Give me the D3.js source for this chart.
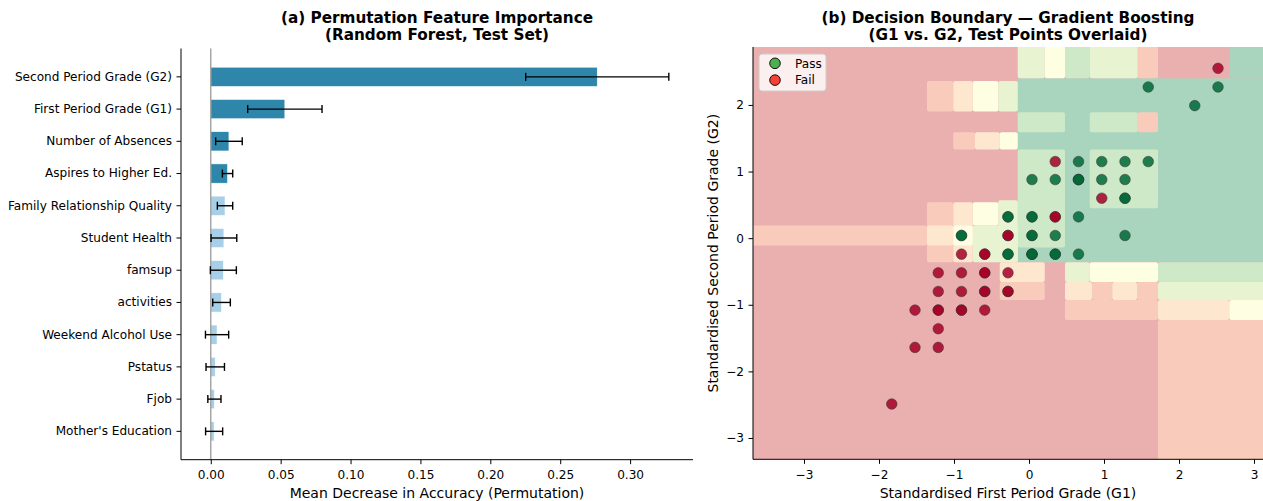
<!DOCTYPE html>
<html><head><meta charset="utf-8">
<script src="https://cdn.jsdelivr.net/npm/d3@7"></script>
<style>
html,body{margin:0;padding:0;background:#fff;}
text{font-family:"DejaVu Sans",sans-serif;fill:#000;}
</style></head>
<body>
<svg id="chart" width="1263" height="501"></svg>
<script>
// ---------- DATA: panel (a) ----------
const features = ["Second Period Grade (G2)", "First Period Grade (G1)", "Number of Absences",
  "Aspires to Higher Ed.", "Family Relationship Quality", "Student Health", "famsup", "activities",
  "Weekend Alcohol Use", "Pstatus", "Fjob", "Mother's Education"];
const importanceMean = [0.2765, 0.0530, 0.0130, 0.0120, 0.0102, 0.0094, 0.0090, 0.0077, 0.0045, 0.0032, 0.0026, 0.0024];
const importanceStd  = [0.0512, 0.0266, 0.0095, 0.0037, 0.0055, 0.0092, 0.0093, 0.0063, 0.0083, 0.0066, 0.0047, 0.0061];
const highlightCount = 4;
const importanceTicks = [0.00, 0.05, 0.10, 0.15, 0.20, 0.25, 0.30];

// ---------- DATA: panel (b) ----------
const passG1 = [1.59, 2.52, 2.21, 0.66, 0.97, 1.28, 1.59, 0.04, 0.35, 0.66, 0.66, 0.66, 0.97, 1.28, 1.28, 1.28,
  -0.28, -0.28, 0.04, 0.04, 0.66, -0.90, -0.90, 0.04, 0.04, 0.35, 1.28, -0.28, -0.28, 0.04, 0.04, 0.04, 0.35, 0.35, 0.66];
const passG2 = [2.27, 2.27, 1.99, 1.15, 1.15, 1.15, 1.15, 0.88, 0.88, 0.88, 0.88, 0.88, 0.88, 0.88, 0.60, 0.60,
  0.32, 0.32, 0.32, 0.32, 0.32, 0.04, 0.04, 0.04, 0.04, 0.04, 0.04, -0.24, -0.24, -0.24, -0.24, -0.24, -0.24, -0.24, -0.24];
const failG1 = [2.52, 0.35, 0.97, 0.35, 0.35, -0.28, -0.28, -0.90, -0.59, -0.59, -1.21, -0.90, -0.59, -0.59, -0.28,
  -1.21, -0.90, -0.59, -0.59, -0.28, -0.28, -1.52, -1.21, -1.21, -0.90, -0.90, -0.59, -1.21, -1.52, -1.21, -1.83];
const failG2 = [2.55, 1.15, 0.60, 0.32, 0.32, 0.04, 0.04, -0.24, -0.24, -0.24, -0.52, -0.52, -0.52, -0.52, -0.52,
  -0.80, -0.80, -0.80, -0.80, -0.80, -0.80, -1.08, -1.08, -1.08, -1.08, -1.08, -1.08, -1.36, -1.64, -1.64, -2.49];
const g1Ticks = [-3, -2, -1, 0, 1, 2, 3];
const g2Ticks = [-3, -2, -1, 0, 1, 2];
const legendLabels = ["Pass", "Fail"];

// decision-boundary regions of the predicted pass probability (G1 range, G2 range, probability band)
const regionG1Lo = [-0.15, -0.15, 0.21, 0.48, 0.81, 1.45, 1.72, 2.68, -0.15, 0.81, 1.45, 0.81, -0.15, -0.75, -0.41,
  -1.36, -1.01, -0.75, -0.41, -1.01, -0.72, -0.39,
  -3.70, -1.36, -1.36, -1.01, -1.01, -0.75,
  1.72, 1.72, 1.72, 2.67, 1.72, 0.48, 0.81, 0.48, 0.84, 1.11, 1.44, 0.48, -0.39, -0.39];
const regionG1Hi = [3.20, 0.21, 0.48, 0.81, 1.45, 1.72, 2.68, 3.20, 0.48, 1.45, 1.72, 1.72, 0.48, -0.15, -0.15,
  -1.01, -0.75, -0.41, -0.15, -0.72, -0.39, -0.15,
  -1.36, -1.01, -1.01, -0.75, -0.75, -0.41,
  3.20, 3.20, 2.67, 3.20, 3.20, 0.81, 1.72, 0.84, 1.11, 1.44, 1.72, 1.72, 0.21, 0.21];
const regionG2Lo = [-0.36, 2.40, 2.40, 2.40, 2.40, 2.40, 2.40, 2.40, 1.59, 1.59, 1.59, 0.45, -0.14, -0.36, -0.36,
  1.90, 1.90, 1.90, 1.90, 1.33, 1.33, 1.33,
  -0.11, -0.36, -0.11, -0.36, -0.11, 0.19,
  -0.66, -0.93, -1.23, -1.23, -3.40, -0.66, -0.66, -0.93, -0.93, -0.93, -0.93, -1.23, -0.66, -0.93];
const regionG2Hi = [2.40, 3.00, 3.00, 3.00, 3.00, 3.00, 3.00, 3.00, 1.89, 1.89, 1.89, 1.33, 1.33, 0.19, 0.57,
  2.36, 2.36, 2.36, 2.36, 1.59, 1.59, 1.59,
  0.19, 0.54, 0.19, 0.54, 0.19, 0.54,
  -0.36, -0.66, -0.93, -0.93, -1.23, -0.36, -0.36, -0.66, -0.66, -0.66, -0.66, -0.93, -0.36, -0.66];
const regionBand = [6, 4, 3, 5, 4, 1, 0, 6, 5, 5, 1, 5, 5, 4, 4,
  1, 2, 3, 4, 1, 2, 3,
  1, 1, 2, 2, 3, 3,
  5, 4, 2, 3, 1, 4, 3, 2, 1, 2, 1, 1, 2, 1];

// ---------- STYLE ----------
const bandColors = ["#eab0b0", "#f9cbbb", "#fde7cf", "#fefee3", "#e8f4d1", "#cde9c8", "#a9d5bf"];
const barDark = "#2e86ab", barLight = "#a8cfe8";
const passFill = "#006837", failFill = "#a50026";
const legendColors = ["#4caf50", "#f44336"];
const tickFont = 12.1, labelFont = 14, titleFont = 15.25;

const svg = d3.select("#chart");

function styleAxis(a) {
  a.select(".domain").attr("stroke", "#000").attr("stroke-width", 1);
  a.selectAll(".tick line").attr("stroke", "#000");
  a.selectAll(".tick text").attr("font-size", tickFont).attr("font-family", "DejaVu Sans").attr("fill", "#000");
}

// ================= Panel (a) =================
const A = {left: 181, right: 693, top: 48.5, bottom: 459.7};
const xa = d3.scaleLinear().domain([-0.0213, 0.345]).range([A.left, A.right]);
const ya = d3.scaleBand().domain(features).range([A.top, A.bottom]).paddingInner(0.4).paddingOuter(0.58);
const ga = svg.append("g");

ga.selectAll("rect.bar").data(features).join("rect")
  .attr("x", xa(0))
  .attr("y", d => ya(d))
  .attr("width", (d, i) => xa(importanceMean[i]) - xa(0))
  .attr("height", ya.bandwidth())
  .attr("fill", (d, i) => i < highlightCount ? barDark : barLight)
  .attr("stroke", "#fff").attr("stroke-width", 0.6);

ga.append("line").attr("x1", xa(0)).attr("x2", xa(0)).attr("y1", A.top).attr("y2", A.bottom)
  .attr("stroke", "#999").attr("stroke-width", 1.3);

const eb = ga.selectAll("g.eb").data(features).join("g");
eb.append("line")
  .attr("x1", (d, i) => xa(importanceMean[i] - importanceStd[i]))
  .attr("x2", (d, i) => xa(importanceMean[i] + importanceStd[i]))
  .attr("y1", d => ya(d) + ya.bandwidth() / 2).attr("y2", d => ya(d) + ya.bandwidth() / 2)
  .attr("stroke", "#000").attr("stroke-width", 1.4);
[-1, 1].forEach(s => {
  eb.append("line")
    .attr("x1", (d, i) => xa(importanceMean[i] + s * importanceStd[i]))
    .attr("x2", (d, i) => xa(importanceMean[i] + s * importanceStd[i]))
    .attr("y1", d => ya(d) + ya.bandwidth() / 2 - 4).attr("y2", d => ya(d) + ya.bandwidth() / 2 + 4)
    .attr("stroke", "#000").attr("stroke-width", 1.4);
});

const axA_x = ga.append("g").attr("transform", `translate(0,${A.bottom})`)
  .call(d3.axisBottom(xa).tickValues(importanceTicks).tickFormat(d3.format(".2f")).tickSize(4.5).tickPadding(6.5));
const axA_y = ga.append("g").attr("transform", `translate(${A.left},0)`)
  .call(d3.axisLeft(ya).tickSize(4.5).tickPadding(4.5));
styleAxis(axA_x); styleAxis(axA_y);
axA_x.select(".domain").attr("d", `M${A.left},0H${A.right}`);
axA_y.select(".domain").attr("d", `M0,${A.top}V${A.bottom}`);

ga.append("text").attr("x", (A.left + A.right) / 2).attr("y", 22.5).attr("text-anchor", "middle")
  .attr("font-size", titleFont).attr("font-weight", "bold").text("(a) Permutation Feature Importance");
ga.append("text").attr("x", (A.left + A.right) / 2).attr("y", 39.5).attr("text-anchor", "middle")
  .attr("font-size", titleFont).attr("font-weight", "bold").text("(Random Forest, Test Set)");
ga.append("text").attr("x", (A.left + A.right) / 2).attr("y", 497.5).attr("text-anchor", "middle")
  .attr("font-size", labelFont).text("Mean Decrease in Accuracy (Permutation)");

// ================= Panel (b) =================
const B = {left: 753, right: 1263, top: 47, bottom: 459.3};
const xb = d3.scaleLinear().domain([-3.68, 3.12]).range([B.left, B.right]);
const yb = d3.scaleLinear().domain([-3.32, 2.87]).range([B.bottom, B.top]);
const gb = svg.append("g");
svg.append("defs").append("clipPath").attr("id", "clipB").append("rect")
  .attr("x", B.left).attr("y", B.top).attr("width", B.right - B.left).attr("height", B.bottom - B.top);

const plotB = gb.append("g").attr("clip-path", "url(#clipB)");
plotB.append("rect").attr("x", B.left).attr("y", B.top).attr("width", B.right - B.left)
  .attr("height", B.bottom - B.top).attr("fill", bandColors[0]);
plotB.selectAll("rect.region").data(regionBand).join("rect")
  .attr("x", (d, i) => xb(regionG1Lo[i]))
  .attr("width", (d, i) => xb(regionG1Hi[i]) - xb(regionG1Lo[i]))
  .attr("y", (d, i) => yb(regionG2Hi[i]))
  .attr("height", (d, i) => yb(regionG2Lo[i]) - yb(regionG2Hi[i]))
  .attr("rx", 2)
  .attr("fill", d => bandColors[d]);

plotB.selectAll("circle.pass").data(passG1).join("circle")
  .attr("cx", d => xb(d)).attr("cy", (d, i) => yb(passG2[i])).attr("r", 5.3)
  .attr("fill", passFill).attr("fill-opacity", 0.85)
  .attr("stroke", "#333").attr("stroke-opacity", 0.85).attr("stroke-width", 0.6);
plotB.selectAll("circle.fail").data(failG1).join("circle")
  .attr("cx", d => xb(d)).attr("cy", (d, i) => yb(failG2[i])).attr("r", 5.3)
  .attr("fill", failFill).attr("fill-opacity", 0.85)
  .attr("stroke", "#333").attr("stroke-opacity", 0.85).attr("stroke-width", 0.6);

const intFmt = d3.format("d");
const axB_x = gb.append("g").attr("transform", `translate(0,${B.bottom})`)
  .call(d3.axisBottom(xb).tickValues(g1Ticks).tickFormat(intFmt).tickSize(4.5).tickPadding(6.5));
const axB_y = gb.append("g").attr("transform", `translate(${B.left},0)`)
  .call(d3.axisLeft(yb).tickValues(g2Ticks).tickFormat(intFmt).tickSize(4.5).tickPadding(4.5));
styleAxis(axB_x); styleAxis(axB_y);
axB_x.select(".domain").attr("d", `M${B.left},0H${B.right}`);
axB_y.select(".domain").attr("d", `M0,${B.top}V${B.bottom}`);

// legend
const lg = gb.append("g");
lg.append("rect").attr("x", 759).attr("y", 54).attr("width", 67).attr("height", 37).attr("rx", 3)
  .attr("fill", "#fff").attr("fill-opacity", 0.8).attr("stroke", "#ccc").attr("stroke-width", 1);
lg.selectAll("circle").data(legendLabels).join("circle")
  .attr("cx", 775).attr("cy", (d, i) => 63.3 + i * 16.8).attr("r", 5.3)
  .attr("fill", (d, i) => legendColors[i]).attr("stroke", "#000").attr("stroke-width", 0.9);
lg.selectAll("text").data(legendLabels).join("text")
  .attr("x", 795).attr("y", (d, i) => 67.6 + i * 16.8).attr("font-size", tickFont).text(d => d);

gb.append("text").attr("x", (B.left + B.right) / 2).attr("y", 22.5).attr("text-anchor", "middle")
  .attr("font-size", titleFont).attr("font-weight", "bold").text("(b) Decision Boundary — Gradient Boosting");
gb.append("text").attr("x", (B.left + B.right) / 2).attr("y", 39.5).attr("text-anchor", "middle")
  .attr("font-size", titleFont).attr("font-weight", "bold").text("(G1 vs. G2, Test Points Overlaid)");
gb.append("text").attr("x", (B.left + B.right) / 2).attr("y", 497.5).attr("text-anchor", "middle")
  .attr("font-size", labelFont).text("Standardised First Period Grade (G1)");
gb.append("text").attr("transform", `translate(718,${(B.top + B.bottom) / 2}) rotate(-90)`)
  .attr("text-anchor", "middle").attr("font-size", labelFont).text("Standardised Second Period Grade (G2)");
</script>
</body></html>
